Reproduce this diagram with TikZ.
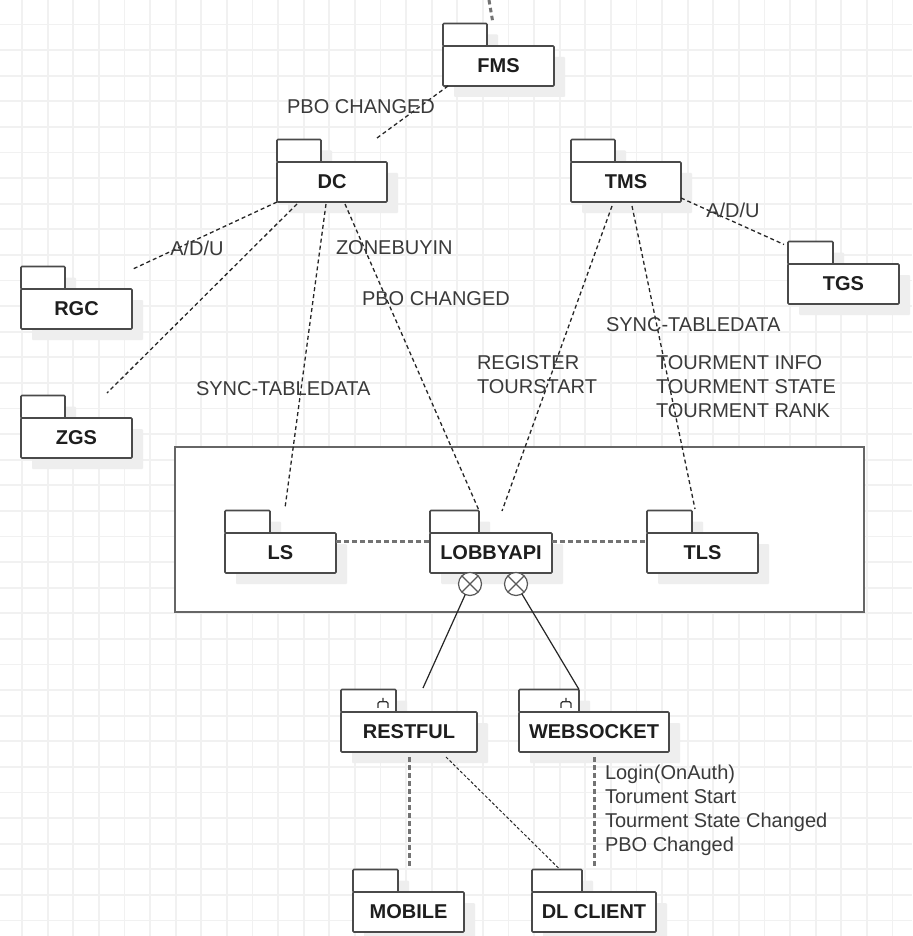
\documentclass[tikz,border=0pt]{standalone}
\usepackage{fontspec}
\setmainfont{Liberation Sans}
\usepackage{tikz}
\usetikzlibrary{positioning, shadows}

\definecolor{pkgline}{HTML}{4A4A4A}
\definecolor{pkgtext}{HTML}{1E1E1E}
\definecolor{labeltext}{HTML}{3A3A3A}
\definecolor{gridgray}{HTML}{F1F1F1}
\definecolor{shadowgray}{HTML}{EEEEEE}

\begin{document}
\begin{tikzpicture}[
    x = 1pt, % one unit per pixel
    y = -1pt, % y runs downwards
    semithick, % line style
    inner sep = 0pt,
    outer sep = 0pt
]

\tikzstyle{package}=[
    draw = pkgline,
    line width = 1.6pt,
    fill = white,
    rounded corners = 1pt,
    drop shadow = {shadow xshift = 11pt, shadow yshift = -11pt, fill = shadowgray, opacity = 1}
]
\tikzstyle{tab}=[package, minimum height = 22.5pt]
\tikzstyle{body}=[package, minimum height = 40pt, text = pkgtext, font = \bfseries\fontsize{20pt}{24pt}\selectfont]
\tikzstyle{msg}=[text = labeltext, font = \fontsize{20pt}{24pt}\selectfont, align = left]
\tikzstyle{gridline}=[draw = gridgray, line width = 1.8pt]
\tikzstyle{dashline}=[draw = black!85, line width = 1.3pt, dash pattern = on 4pt off 3pt]
\tikzstyle{dotline}=[draw = black!55, line width = 3pt, dash pattern = on 4.5pt off 3.5pt]
\tikzstyle{wire}=[draw = black!85, line width = 1.2pt]
\tikzstyle{icon}=[draw = black!80, line width = 1.3pt, rounded corners = 1.5pt]
\tikzstyle{port}=[
    circle,
    draw = black!65,
    line width = 1.2pt,
    fill = white,
    minimum size = 23pt,
    path picture = {\draw[black!65, line width = 1.1pt]
        (path picture bounding box.north west) -- (path picture bounding box.south east)
        (path picture bounding box.north east) -- (path picture bounding box.south west);}
]

\useasboundingbox (0,0) rectangle (912,936);
\fill[white] (0,0) rectangle (912,936);

% background grid
\foreach \gx in {0,...,34}
    \draw[gridline] (22+25.6*\gx, 0) -- (22+25.6*\gx, 936);
\foreach \gy in {0,...,35}
    \draw[gridline] (0, 24.5+25.6*\gy) -- (912, 24.5+25.6*\gy);

\node[draw = black!60, line width = 2pt, fill = white, minimum width = 689pt, minimum height = 165pt, anchor = north west] (lobbyzone) at (175,447) {};

% packages
\node[tab, minimum width = 44pt, anchor = south west] (fms-tab) at (443,46) {};
\node[body, minimum width = 111pt, below right = 0pt and 0pt of fms-tab.south west] (fms) {FMS};

\node[tab, minimum width = 44pt, anchor = south west] (dc-tab) at (277,162) {};
\node[body, minimum width = 110pt, below right = 0pt and 0pt of dc-tab.south west] (dc) {DC};

\node[tab, minimum width = 44pt, anchor = south west] (tms-tab) at (571,162) {};
\node[body, minimum width = 110pt, below right = 0pt and 0pt of tms-tab.south west] (tms) {TMS};

\node[tab, minimum width = 45pt, anchor = south west] (tgs-tab) at (788,264) {};
\node[body, minimum width = 111pt, below right = 0pt and 0pt of tgs-tab.south west] (tgs) {TGS};

\node[tab, minimum width = 44pt, anchor = south west] (rgc-tab) at (21,289) {};
\node[body, minimum width = 111pt, below right = 0pt and 0pt of rgc-tab.south west] (rgc) {RGC};

\node[tab, minimum width = 44pt, anchor = south west] (zgs-tab) at (21,418) {};
\node[body, minimum width = 111pt, below right = 0pt and 0pt of zgs-tab.south west] (zgs) {ZGS};

\node[tab, minimum width = 45pt, anchor = south west] (ls-tab) at (225,533) {};
\node[body, minimum width = 111pt, below right = 0pt and 0pt of ls-tab.south west] (ls) {LS};

\node[tab, minimum width = 49pt, anchor = south west] (lobbyapi-tab) at (430,533) {};
\node[body, minimum width = 122pt, below right = 0pt and 0pt of lobbyapi-tab.south west] (lobbyapi) {LOBBYAPI};

\node[tab, minimum width = 45pt, anchor = south west] (tls-tab) at (647,533) {};
\node[body, minimum width = 111pt, below right = 0pt and 0pt of tls-tab.south west] (tls) {TLS};

\node[tab, minimum width = 55pt, anchor = south west] (restful-tab) at (341,712) {};
\node[body, minimum width = 136pt, below right = 0pt and 0pt of restful-tab.south west] (restful) {RESTFUL};

\node[tab, minimum width = 60pt, anchor = south west] (websocket-tab) at (519,712) {};
\node[body, minimum width = 150pt, below right = 0pt and 0pt of websocket-tab.south west] (websocket) {WEBSOCKET};

\node[tab, minimum width = 45pt, anchor = south west] (mobile-tab) at (353,892) {};
\node[body, minimum width = 111pt, below right = 0pt and 0pt of mobile-tab.south west] (mobile) {MOBILE};

\node[tab, minimum width = 50pt, anchor = south west] (dlclient-tab) at (532,892) {};
\node[body, minimum width = 124pt, below right = 0pt and 0pt of dlclient-tab.south west] (dlclient) {DL CLIENT};

% little fork marks in the tabs
\draw[icon] ([xshift = -13pt, yshift = 3pt]restful-tab.east) -- ++(0,4)
    ++(-5,6) -- ++(0,-6) -- ++(10,0) -- ++(0,6);
\draw[icon] ([xshift = -13pt, yshift = 3pt]websocket-tab.east) -- ++(0,4)
    ++(-5,6) -- ++(0,-6) -- ++(10,0) -- ++(0,6);

\node[port] (port-rest) at (470,584) {};
\node[port] (port-ws) at (516,584) {};

% free ends
\coordinate (fms-top) at (489,0);
\coordinate (pbo-end) at (377,138);
\coordinate (rgc-end) at (133,269);
\coordinate (zgs-end) at (107,393);
\coordinate (ls-end) at (285,508);
\coordinate (reg-end) at (502,511);
\coordinate (tls-end) at (695,509);
\coordinate (rest-end) at (423,688);

% connectors
\draw[dotline] (fms-top) -- ([xshift = 6pt]fms-tab.north east);
\draw[dashline] ([xshift = 5pt]fms.south west) -- (pbo-end);
\draw[dashline] (dc.south west) -- (rgc-end);
\draw[dashline] ([xshift = 20pt, yshift = -2pt]dc.south west) -- (zgs-end);
\draw[dashline] ([xshift = 49pt, yshift = -2pt]dc.south west) -- (ls-end);
\draw[dashline] ([xshift = 68pt, yshift = -2pt]dc.south west) -- (lobbyapi-tab.north east);
\draw[dashline] ([xshift = 41pt, yshift = -4pt]tms.south west) -- (reg-end);
\draw[dashline] ([xshift = 61pt, yshift = -4pt]tms.south west) -- (tls-end);
\draw[dashline] ([yshift = 4pt]tms.south east) -- ([xshift = -4pt, yshift = -3pt]tgs-tab.north west);

\draw[dotline] ([yshift = -8pt]ls.north east) -- ([yshift = -8pt]lobbyapi.north west);
\draw[dotline] ([yshift = -8pt]lobbyapi.north east) -- ([yshift = -8pt]tls.north west);

\draw[wire] (port-rest) -- (rest-end);
\draw[wire] (port-ws) -- (websocket-tab.north east);

\draw[dotline] ([yshift = -5pt]restful.south) -- ([yshift = 2pt]restful.south |- mobile-tab.north);
\draw[dotline] ([yshift = -5pt]websocket.south) -- ([yshift = 2pt]websocket.south |- dlclient-tab.north);
\draw[dashline, line width = 1pt, dash pattern = on 3pt off 2pt] ([xshift = 37pt, yshift = -5pt]restful.south) -- ([xshift = 28pt]dlclient-tab.north west);

% labels
\node[msg] (pbo-fms) at (361,107) {PBO CHANGED};
\node[msg] (adu-dc) at (197,248) {A/D/U};
\node[msg, anchor = west] (zonebuyin) at (336,248) {ZONEBUYIN};
\node[msg, anchor = west] (pbo-dc) at (362,299) {PBO CHANGED};
\node[msg, anchor = west] (sync-dc) at (196,389) {SYNC-TABLEDATA};
\node[msg, anchor = west] (register) at (477,375) {REGISTER\\TOURSTART};
\node[msg, anchor = west] (sync-tms) at (606,325) {SYNC-TABLEDATA};
\node[msg, anchor = west] (tourment) at (656,387) {TOURMENT INFO\\TOURMENT STATE\\TOURMENT RANK};
\node[msg] (adu-tms) at (733,210) {A/D/U};
\node[msg, anchor = west] (client-msgs) at (605,810) {Login(OnAuth)\\Torument Start\\Tourment State Changed\\PBO Changed};

\end{tikzpicture}
\end{document}
